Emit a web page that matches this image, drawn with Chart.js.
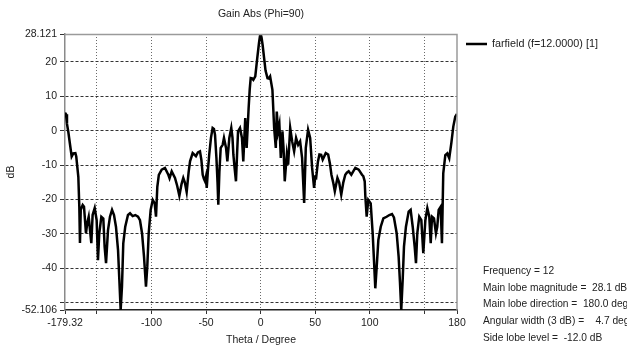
<!DOCTYPE html>
<html>
<head>
<meta charset="utf-8">
<script src="https://cdn.jsdelivr.net/npm/chart.js@4.4.1/dist/chart.umd.min.js"></script>
<style>
  html, body { margin: 0; padding: 0; background: #fff; }
  canvas { display: block; }
</style>
</head>
<body>
<canvas id="gainChart" width="627" height="345"></canvas>
<script>
// theta (deg) and gain (dB)
const theta = [
  -179.32, -178.4, -177.5, -176.3, -174.5, -173.2, -171.7, -169.8, -169.0, -167.1,
  -166.2, -165.6, -164.9, -163.1, -161.9, -160.1, -158.9, -157.6, -156.4, -155.2,
  -154.0, -152.1, -150.3, -149.1, -147.9, -146.0, -144.2, -143.0, -141.7, -139.9,
  -138.1, -136.2, -134.4, -132.6, -130.7, -129.5, -128.3, -127.1, -125.9, -124.1,
  -121.6, -119.7, -117.3, -114.9, -112.4, -110.6, -108.7, -106.9, -105.1, -103.9,
  -102.6, -100.8, -98.9, -97.1, -95.9, -94.7, -93.3, -90.7, -87.7, -84.6,
  -83.5, -81.5, -78.5, -76.5, -74.5, -72.5, -70.9, -69.5, -67.8, -66.0,
  -64.7, -62.3, -59.3, -57.5, -55.6, -54.3, -53.1, -52.0, -51.0, -50.2,
  -49.4, -48.2, -47.1, -45.5, -44.0, -42.8, -41.8, -40.5, -39.5, -38.8,
  -37.8, -36.6, -34.8, -33.6, -31.7, -30.5, -28.7, -26.9, -25.8, -25.0,
  -23.8, -22.6, -21.5, -20.7, -18.9, -17.1, -15.9, -14.1, -12.8, -11.0,
  -10.0, -9.1, -7.8, -6.7, -4.9, -3.1, -1.5, -0.6, 0, 0.8,
  1.8, 3.2, 4.5, 6.3, 7.5, 8.7, 10.8, 12.4, 13.9, 14.8,
  16.0, 17.2, 18.5, 20.0, 21.0, 22.1, 24.0, 25.2, 27.1, 28.9,
  30.7, 32.5, 34.4, 36.2, 38.0, 39.9, 41.4, 43.5, 45.4, 47.2,
  49.0, 50.0, 50.9, 52.5, 53.9, 55.5, 56.9, 59.7, 61.9, 63.5,
  64.9, 66.5, 68.0, 70.4, 72.0, 73.9, 75.8, 77.6, 79.0, 80.7,
  83.1, 84.5, 86.8, 89.9, 92.9, 94.1, 95.4, 96.0, 97.2, 98.7,
  100.9, 102.7, 103.9, 105.1, 106.4, 107.9, 110.1, 112.5, 115.5, 118.0,
  120.4, 122.2, 124.7, 126.5, 127.7, 128.9, 130.2, 131.4, 133.2, 135.7,
  137.5, 139.4, 141.2, 142.4, 143.6, 145.4, 147.3, 149.1, 151.0, 152.8,
  154.6, 155.9, 157.1, 158.9, 160.7, 161.9, 163.2, 165.0, 166.2, 167.4,
  169.3, 171.1, 172.9, 174.8, 176.6, 178.4, 180
];
const gain = [
  5.2, 4.8, 2.0, -0.3, -4.5, -7.5, -6.6, -6.5, -7.5, -13.4,
  -22.1, -32.6, -23.0, -21.6, -22.1, -29.8, -26.8, -25.0, -28.9, -32.7,
  -24.5, -22.5, -26.0, -37.6, -29.8, -25.0, -25.5, -33.7, -38.5, -28.9,
  -25.0, -23.0, -24.5, -27.9, -34.7, -43.4, -52.1, -45.3, -32.7, -27.9,
  -24.5, -24.0, -24.8, -24.5, -25.0, -26.0, -29.8, -36.6, -45.3, -39.5,
  -29.8, -23.0, -20.1, -21.1, -25.0, -16.3, -12.8, -11.3, -10.8, -12.8,
  -13.8, -11.8, -13.7, -16.0, -18.9, -15.5, -13.7, -15.0, -17.8, -12.0,
  -8.9, -6.5, -7.4, -6.3, -6.0, -8.5, -12.8, -14.0, -14.7, -13.5,
  -16.6, -11.0, -6.9, -2.0, 0.8, 0.5, -1.2, -8.0, -15.0, -21.5,
  -12.0, -5.0, -4.1, -2.1, -5.0, -8.9, -2.1, 0.8, -2.0, -6.9,
  -11.0, -14.7, -6.0, -0.2, 0.8, -2.1, -8.9, 3.7, -5.0, 6.6,
  12.0, 15.3, 15.2, 14.8, 15.8, 21.1, 25.5, 27.5, 28.121, 27.2,
  25.0, 21.1, 17.5, 15.3, 15.2, 15.8, 11.9, 0.8, -5.0, 5.6,
  -0.2, 1.8, -7.9, -0.2, -5.0, -14.7, -6.9, -9.9, 0.8, -3.1,
  -6.0, -2.1, -4.1, -3.1, -7.9, -21.0, -5.0, 0.3, -2.1, -10.8,
  -16.6, -13.5, -13.7, -9.0, -6.9, -7.0, -8.4, -6.5, -6.9, -9.5,
  -12.8, -15.0, -17.6, -13.7, -15.0, -18.6, -15.0, -12.8, -12.2, -11.8,
  -12.8, -12.0, -10.8, -11.3, -12.8, -13.2, -14.7, -19.2, -25.0, -20.1,
  -21.1, -29.8, -37.6, -45.8, -39.5, -31.8, -27.9, -25.5, -25.0, -24.5,
  -24.2, -25.2, -29.8, -36.6, -43.9, -52.1, -43.4, -33.7, -27.9, -23.5,
  -23.0, -27.9, -33.7, -38.5, -29.8, -25.0, -26.0, -35.6, -26.0, -22.5,
  -25.0, -32.7, -25.0, -25.5, -29.8, -27.9, -23.0, -22.1, -32.7, -12.4,
  -7.1, -6.6, -8.0, -3.6, 1.2, 4.1, 4.9
];

const xTicks = [-179.32, -150, -100, -50, 0, 50, 100, 150, 180];
const yTicks = [-52.106, -50, -40, -30, -20, -10, 0, 10, 20, 28.121];
const xHidden = [-150, 150];
const yHidden = [-50];

const seriesLabel = 'farfield (f=12.0000) [1]';
const titleText = 'Gain Abs (Phi=90)';
const statLines = [
  'Frequency = 12',
  'Main lobe magnitude =  28.1 dB',
  'Main lobe direction =  180.0 deg.',
  'Angular width (3 dB) =    4.7 deg.',
  'Side lobe level =  -12.0 dB'
];

const FONT = "'Liberation Sans', Arial, sans-serif";

const decorations = {
  id: 'decorations',
  afterDraw(chart) {
    const ctx = chart.ctx;
    const a = chart.chartArea;
    ctx.save();
    // top and right frame
    ctx.strokeStyle = '#9a9a9a';
    ctx.lineWidth = 1.5;
    ctx.beginPath();
    ctx.moveTo(a.left, a.top + 0.5);
    ctx.lineTo(a.right, a.top + 0.5);
    ctx.lineTo(a.right, a.bottom);
    ctx.stroke();

    ctx.fillStyle = '#222';
    ctx.font = '10.5px ' + FONT;
    ctx.textBaseline = 'middle';
    ctx.textAlign = 'center';
    ctx.fillText(titleText, (a.left + a.right) / 2, 14);

    // legend
    ctx.strokeStyle = '#000';
    ctx.lineWidth = 2.5;
    ctx.beginPath();
    ctx.moveTo(466, 44);
    ctx.lineTo(487, 44);
    ctx.stroke();
    ctx.textAlign = 'left';
    ctx.font = '10.8px ' + FONT;
    ctx.fillText(seriesLabel, 492, 44);

    ctx.font = '10.2px ' + FONT;
    statLines.forEach((s, i) => ctx.fillText(s, 483, 271 + i * 16.8));
    ctx.restore();
  }
};

const ctx = document.getElementById('gainChart').getContext('2d');

const gainChart = new Chart(ctx, {
  type: 'line',
  data: {
    datasets: [{
      label: seriesLabel,
      data: theta.map((t, i) => ({ x: t, y: gain[i] })),
      borderColor: '#000',
      borderWidth: 2.5,
      pointRadius: 0,
      tension: 0,
      fill: false
    }]
  },
  options: {
    responsive: false,
    animation: false,
    devicePixelRatio: 1,
    layout: { padding: { left: 0, top: 34, right: 170, bottom: 0 } },
    plugins: {
      legend: { display: false },
      tooltip: { enabled: false }
    },
    scales: {
      x: {
        type: 'linear',
        min: -179.32,
        max: 180,
        afterFit: s => { s.height = 35; },
        afterBuildTicks: s => { s.ticks = xTicks.map(v => ({ value: v })); },
        ticks: {
          autoSkip: false,
          maxRotation: 0,
          padding: 3,
          color: '#222',
          font: { family: FONT, size: 10.5 },
          callback: v => xHidden.includes(v) ? '' : String(v)
        },
        grid: {
          color: c => (c.tick && (c.tick.value === -179.32 || c.tick.value === 180)) ? 'rgba(0,0,0,0)' : '#6a6a6a',
          tickColor: '#333',
          tickLength: 4,
          tickBorderDash: []
        },
        border: { color: '#222', width: 1.5, dash: [1, 2] },
        title: {
          display: true,
          text: 'Theta / Degree',
          color: '#222',
          font: { family: FONT, size: 10.5, lineHeight: 1 },
          padding: { top: 0, bottom: 0 }
        }
      },
      y: {
        min: -52.106,
        max: 28.121,
        afterFit: s => { s.width = 65; },
        afterBuildTicks: s => { s.ticks = yTicks.map(v => ({ value: v })); },
        ticks: {
          autoSkip: false,
          padding: 3,
          color: '#222',
          font: { family: FONT, size: 10.5 },
          callback: v => yHidden.includes(v) ? '' : String(v)
        },
        grid: {
          color: c => (c.tick && (c.tick.value === -52.106 || c.tick.value === 28.121)) ? 'rgba(0,0,0,0)' : '#333',
          tickColor: '#333',
          tickLength: 5,
          tickBorderDash: []
        },
        border: { color: '#8a8a8a', width: 1.5, dash: [3, 2] },
        title: {
          display: true,
          text: 'dB',
          color: '#222',
          font: { family: FONT, size: 10.5, lineHeight: 1 },
          padding: { top: 6, bottom: 0 }
        }
      }
    }
  },
  plugins: [decorations]
});
</script>
</body>
</html>
